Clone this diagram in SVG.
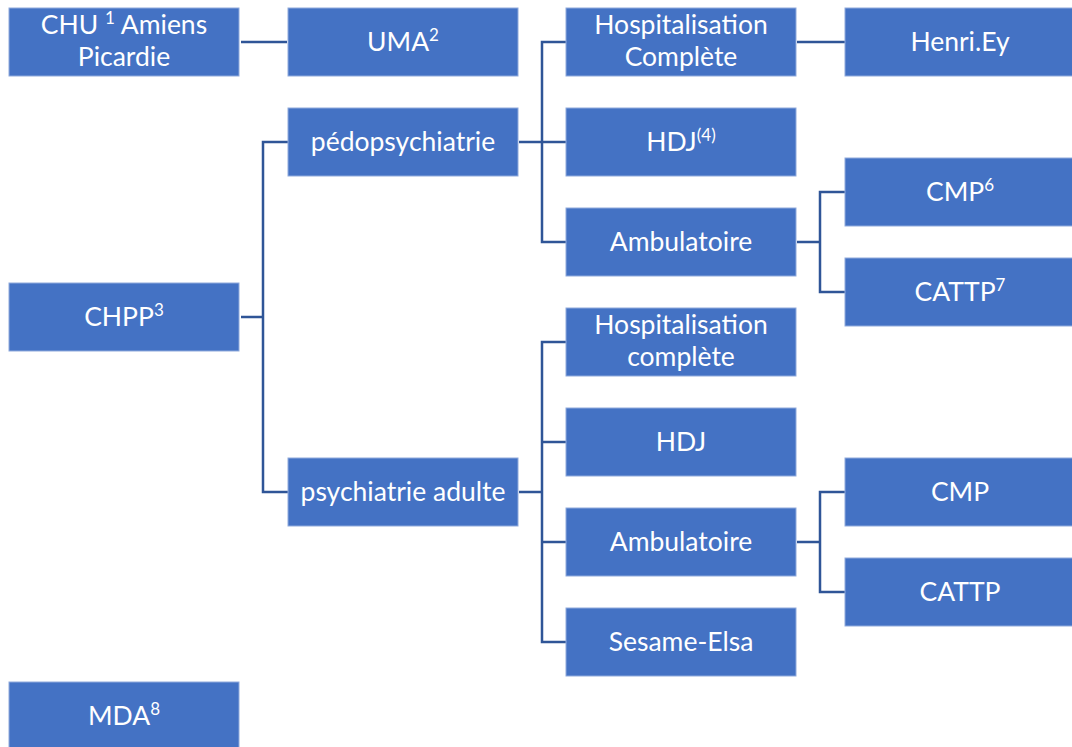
<svg xmlns="http://www.w3.org/2000/svg" width="1072" height="747" viewBox="0 0 1072 747">
<style>
.n rect{fill:#4472C4;stroke:#8FAADC;stroke-width:1}
.n text{fill:#FFFFFF;font-family:Lato,"Open Sans","Liberation Sans",sans-serif;font-size:26.5px;text-anchor:middle}
.sup{font-size:17px}
.c path{fill:none;stroke:#2F5597;stroke-width:2.5}
</style>
<rect width="1072" height="747" fill="#FFFFFF"/>
<g class="c" id="connectors">
<path d="M241 42H287"/>
<path d="M241 317H263V142H288M263 317V492H288"/>
<path d="M519 142H542V42H566M542 142H566M542 142V242H566"/>
<path d="M797 42H845"/>
<path d="M797 242H820V192H845M820 242V292H845"/>
<path d="M519 492H542V342H566M542 442H566M542 492V642H566M542 542H566"/>
<path d="M797 542H820V492H845M820 542V592H845"/>
</g>
<g class="n" id="chu"><rect x="9" y="8" width="230" height="68"/><text x="124" y="34">CHU <tspan class="sup" dy="-10">1</tspan><tspan dy="10"> Amiens</tspan></text><text x="124" y="66">Picardie</text></g>
<g class="n" id="uma"><rect x="288" y="8" width="230" height="68"/><text x="403" y="51">UMA<tspan class="sup" dy="-10">2</tspan></text></g>
<g class="n" id="hosp1"><rect x="566" y="8" width="230" height="68"/><text x="681" y="34">Hospitalisation</text><text x="681" y="66">Complète</text></g>
<g class="n" id="henriey"><rect x="845" y="8" width="230" height="68"/><text x="960" y="51">Henri.Ey</text></g>
<g class="n" id="pedo"><rect x="288" y="108" width="230" height="68"/><text x="403" y="151">pédopsychiatrie</text></g>
<g class="n" id="hdj1"><rect x="566" y="108" width="230" height="68"/><text x="681" y="151">HDJ<tspan class="sup" dy="-10">(4)</tspan></text></g>
<g class="n" id="cmp1"><rect x="845" y="158" width="230" height="68"/><text x="960" y="201">CMP<tspan class="sup" dy="-10">6</tspan></text></g>
<g class="n" id="amb1"><rect x="566" y="208" width="230" height="68"/><text x="681" y="251">Ambulatoire</text></g>
<g class="n" id="cattp1"><rect x="845" y="258" width="230" height="68"/><text x="960" y="301">CATTP<tspan class="sup" dy="-10">7</tspan></text></g>
<g class="n" id="chpp"><rect x="9" y="283" width="230" height="68"/><text x="124" y="326">CHPP<tspan class="sup" dy="-10">3</tspan></text></g>
<g class="n" id="hosp2"><rect x="566" y="308" width="230" height="68"/><text x="681" y="334">Hospitalisation</text><text x="681" y="366">complète</text></g>
<g class="n" id="hdj2"><rect x="566" y="408" width="230" height="68"/><text x="681" y="451">HDJ</text></g>
<g class="n" id="adulte"><rect x="288" y="458" width="230" height="68"/><text x="403" y="501">psychiatrie adulte</text></g>
<g class="n" id="cmp2"><rect x="845" y="458" width="230" height="68"/><text x="960" y="501">CMP</text></g>
<g class="n" id="amb2"><rect x="566" y="508" width="230" height="68"/><text x="681" y="551">Ambulatoire</text></g>
<g class="n" id="cattp2"><rect x="845" y="558" width="230" height="68"/><text x="960" y="601">CATTP</text></g>
<g class="n" id="sesame"><rect x="566" y="608" width="230" height="68"/><text x="681" y="651">Sesame-Elsa</text></g>
<g class="n" id="mda"><rect x="9" y="682" width="230" height="68"/><text x="124" y="725">MDA<tspan class="sup" dy="-10">8</tspan></text></g>
</svg>
